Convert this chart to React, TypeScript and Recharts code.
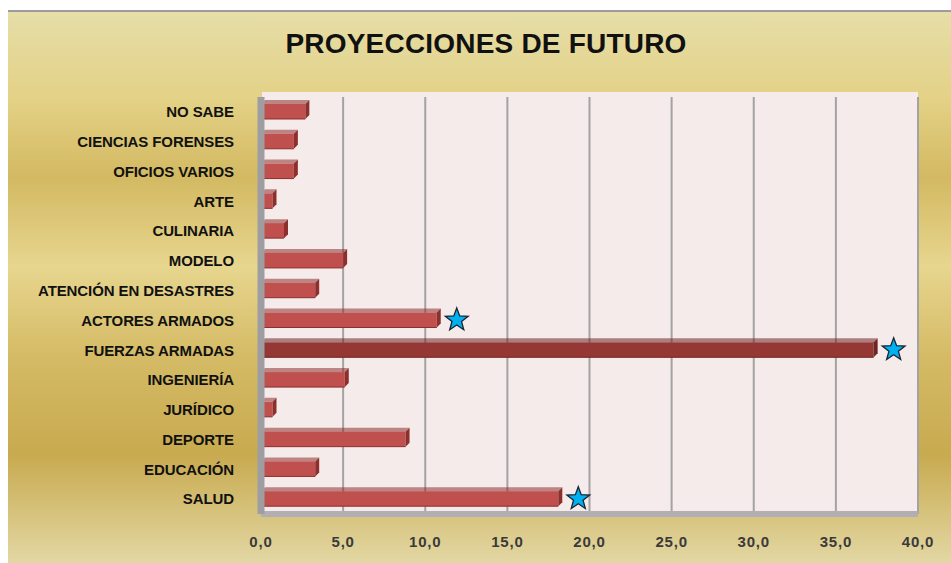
import React from 'react';
import { BarChart, Bar, XAxis, YAxis, CartesianGrid, LabelList, Cell } from 'recharts';

const categories = [
  'NO SABE',
  'CIENCIAS FORENSES',
  'OFICIOS VARIOS',
  'ARTE',
  'CULINARIA',
  'MODELO',
  'ATENCIÓN EN  DESASTRES',
  'ACTORES ARMADOS',
  'FUERZAS ARMADAS',
  'INGENIERÍA',
  'JURÍDICO',
  'DEPORTE',
  'EDUCACIÓN',
  'SALUD',
];
const values = [2.7, 2.0, 2.0, 0.7, 1.4, 5.0, 3.3, 10.7, 37.3, 5.1, 0.7, 8.8, 3.3, 18.1];
const starred = ['ACTORES ARMADOS', 'FUERZAS ARMADAS', 'SALUD'];
const highlighted = 'FUERZAS ARMADAS';
const xTicks = [0, 5, 10, 15, 20, 25, 30, 35, 40];

const chartData = categories.map((name, i) => ({ name, value: values[i], star: starred.includes(name) }));

const FONT = '"Liberation Sans", Arial, sans-serif';

const Bar3D = (props: any) => {
  const { x, y, width, height, fill } = props;
  const d = 4;
  const dark = fill === '#953735' ? '#6f2524' : '#8c2f2d';
  return (
    <g>
      <rect x={x} y={y} width={width} height={height} fill={fill} />
      <polygon
        points={`${x},${y} ${x + d},${y - d} ${x + width + d},${y - d} ${x + width},${y}`}
        fill={dark}
        opacity={0.55}
      />
      <polygon
        points={`${x + width},${y} ${x + width + d},${y - d} ${x + width + d},${y + height - d} ${x + width},${y + height}`}
        fill={dark}
      />
      <line x1={x} y1={y + height} x2={x + width} y2={y + height} stroke={dark} strokeWidth={1} />
    </g>
  );
};

const starPoints = (cx: number, cy: number, ro: number, ri: number) => {
  const pts: string[] = [];
  for (let k = 0; k < 10; k++) {
    const r = k % 2 === 0 ? ro : ri;
    const a = -Math.PI / 2 + (k * Math.PI) / 5;
    pts.push(`${cx + r * Math.cos(a)},${cy + r * Math.sin(a)}`);
  }
  return pts.join(' ');
};

const StarLabel = (props: any) => {
  const { x, y, width, height, index } = props;
  if (!chartData[index] || !chartData[index].star) return null;
  const cx = x + width + 20;
  const cy = y + height / 2;
  return <polygon points={starPoints(cx, cy, 12, 5)} fill="#00b0f0" stroke="#1a2433" strokeWidth={1.3} />;
};

export default function App() {
  return (
    <div style={{ position: 'fixed', left: 0, top: 0, width: 951, height: 563, background: '#fff' }}>
      <div
        style={{
          position: 'absolute',
          left: 8,
          top: 10,
          width: 943,
          height: 553,
          background:
            'linear-gradient(180deg, #e6dea8 0%, #e3d185 16%, #d3b962 30%, #e7d68f 46%, #d5bb66 62%, #c8aa4f 80%, #e3d8a5 100%)',
          borderTop: '2px solid #9c9c9c',
        }}
      />
      <div
        style={{
          position: 'absolute',
          left: 0,
          top: 28,
          width: 972,
          textAlign: 'center',
          fontFamily: FONT,
          fontWeight: 'bold',
          fontSize: 28,
          letterSpacing: 0.2,
          color: '#111',
        }}
      >
        PROYECCIONES DE FUTURO
      </div>
      {/* pink back wall reaching a little above the first bar */}
      <div style={{ position: 'absolute', left: 262, top: 92, width: 656, height: 10, background: '#f6ebeb' }} />
      <div style={{ position: 'absolute', left: 0, top: 0 }}>
        <BarChart
          width={951}
          height={563}
          data={chartData}
          layout="vertical"
          margin={{ top: 97, right: 33, bottom: 20, left: 0 }}
          barCategoryGap={8}
          barSize={15}
        >
          <CartesianGrid
            horizontal={false}
            vertical={true}
            stroke="#a3a3a3"
            strokeWidth={2}
            fill="#f6ebeb"
            fillOpacity={1}
          />
          <XAxis
            type="number"
            domain={[0, 40]}
            ticks={xTicks}
            tickFormatter={(v: number) => v.toFixed(1).replace('.', ',')}
            axisLine={{ stroke: '#b2aeb2', strokeWidth: 6 }}
            tickLine={false}
            tickMargin={16}
            height={29}
            tick={{ fill: '#3a3a3a', fontSize: 15, fontWeight: 'bold', fontFamily: FONT, letterSpacing: 0.8 }}
          />
          <YAxis
            type="category"
            dataKey="name"
            width={261}
            axisLine={{ stroke: '#9e9ea2', strokeWidth: 7 }}
            tickLine={false}
            tickMargin={21}
            interval={0}
            tick={{ fill: '#111', fontSize: 15, fontWeight: 'bold', fontFamily: FONT, letterSpacing: -0.1 }}
          />
          <Bar dataKey="value" shape={<Bar3D />} isAnimationActive={false}>
            {chartData.map((d) => (
              <Cell key={d.name} fill={d.name === highlighted ? '#953735' : '#c0504d'} />
            ))}
            <LabelList dataKey="value" content={<StarLabel />} />
          </Bar>
        </BarChart>
      </div>
    </div>
  );
}
